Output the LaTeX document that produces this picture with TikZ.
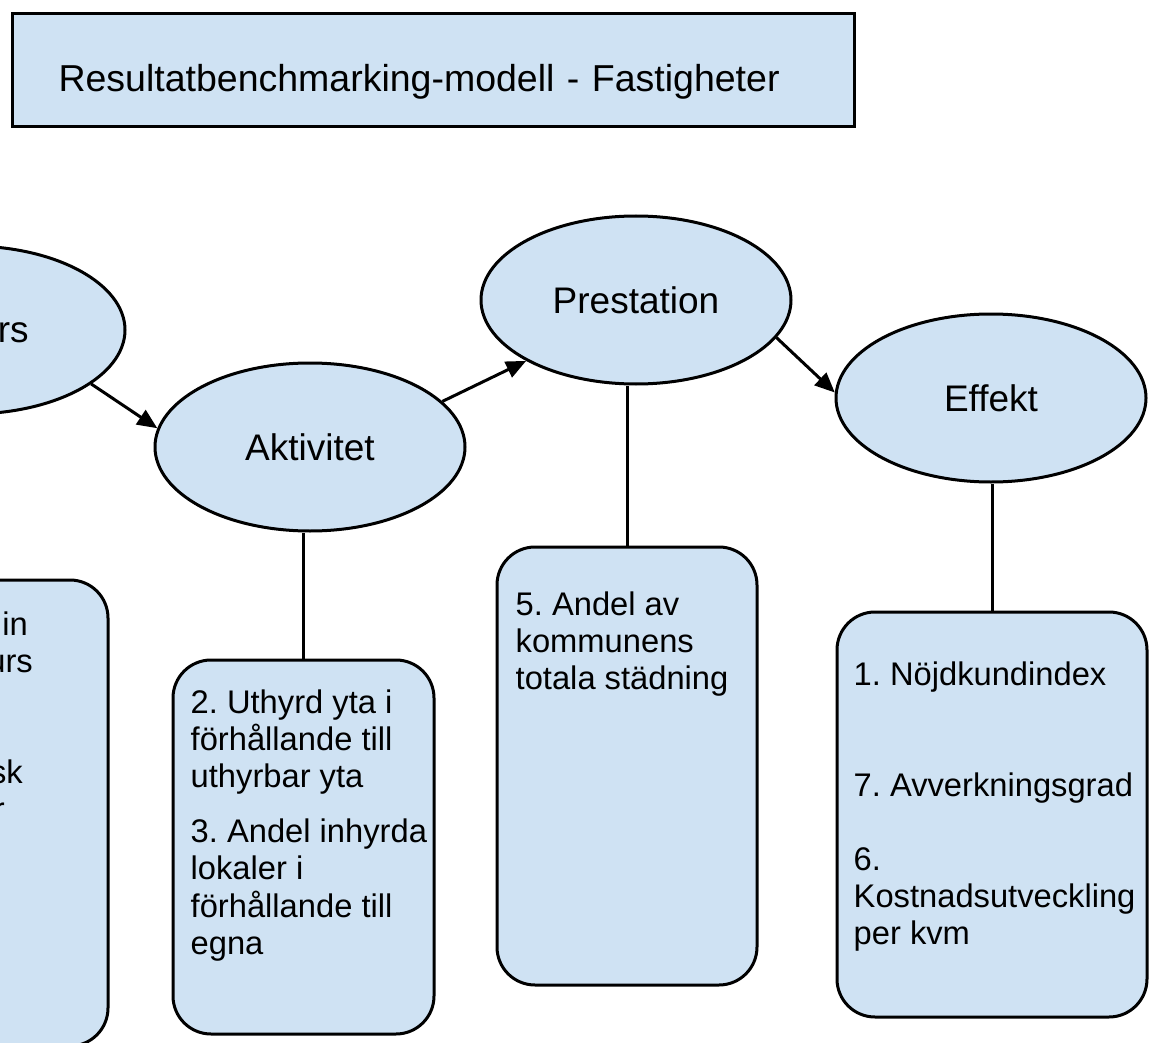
\documentclass[tikz,border=0pt]{standalone}
\usepackage{fontspec}
\setmainfont{Liberation Sans}
\usetikzlibrary{arrows.meta,shapes.geometric,calc}
\definecolor{fillblue}{HTML}{CFE2F3}
\frenchspacing
\begin{document}
\frenchspacing
\begin{tikzpicture}[x=1pt,y=-1pt,
  stage/.style={ellipse, draw, line width=3pt, fill=fillblue, minimum width=310pt, minimum height=168pt, inner sep=0pt, font=\fontsize{37}{44}\selectfont},
  listbox/.style={rectangle, rounded corners=38pt, draw, line width=3pt, fill=fillblue, inner sep=0pt},
  boxtext/.style={inner sep=0pt, font=\fontsize{32.7}{37}\selectfont},
  flow/.style={line width=3pt, -{Triangle[length=20pt,width=17pt]}},
  link/.style={line width=3pt}]
\useasboundingbox (0,0) rectangle (1154,1043);
\clip (0,0) rectangle (1154,1043);

% title
\node[draw, line width=3pt, fill=fillblue, anchor=north west, inner xsep=46pt, inner ysep=0pt,
      text width=750pt, align=left, text height=78pt, text depth=35pt,
      font=\fontsize{37.5}{44}\selectfont] (title) at (11,12) {Resultatbenchmarking-modell - Fastigheter};

% stages
\node[stage] (res) at (-30,330) {Resurs};
\node[stage] (akt) at (310,447) {Aktivitet};
\node[stage] (pres) at (636,300) {Prestation};
\node[stage] (eff) at (991,398) {Effekt};

% boxes
\node[listbox, minimum width=260pt, minimum height=466pt] (lbox) at (-22,813) {};
\node[listbox, minimum width=261pt, minimum height=374pt] (abox) at (303.5,847) {};
\node[listbox, minimum width=260pt, minimum height=438pt] (pbox) at (627,766) {};
\node[listbox, minimum width=310pt, minimum height=405pt] (ebox) at (992,814.5) {};

% box texts
\node[boxtext, anchor=base east] (l1) at (28,635) {in};
\node[boxtext, anchor=base east] (l2) at (33,672) {urs};
\node[boxtext, anchor=base east] (l3) at (23,783) {sk};
\node[boxtext, anchor=base east] (l4) at (5,820) {r};

\node[boxtext, anchor=base west] (atext) at ($(abox.north west)+(19,55)$)
  {\begin{tabular}[t]{@{}l@{}}2. Uthyrd yta i\\ förhållande till\\ uthyrbar yta\\[18pt] 3. Andel inhyrda\\ lokaler i\\ förhållande till\\ egna\end{tabular}};
\node[boxtext, anchor=base west] (ptext) at ($(pbox.north west)+(20,70)$)
  {\begin{tabular}[t]{@{}l@{}}5. Andel av\\ kommunens\\ totala städning\end{tabular}};
\node[boxtext, anchor=base west] (etext) at ($(ebox.north west)+(18,75)$)
  {\begin{tabular}[t]{@{}l@{}}1. Nöjdkundindex\\ \\ \\ 7. Avverkningsgrad\\ \\ 6.\\ Kostnadsutveckling\\ per kvm\end{tabular}};

% connectors
\draw[link] (abox.north) -- (abox.north |- akt.south);
\draw[link] (pbox.north) -- (pbox.north |- pres.south);
\draw[link] (ebox.north) -- (ebox.north |- eff.south);

\draw[flow] (res.-24) -- (akt.173);
\draw[flow] (akt.19) -- (pres.209);
\draw[flow] (pres.-15) -- (eff.178);
\end{tikzpicture}
\end{document}
